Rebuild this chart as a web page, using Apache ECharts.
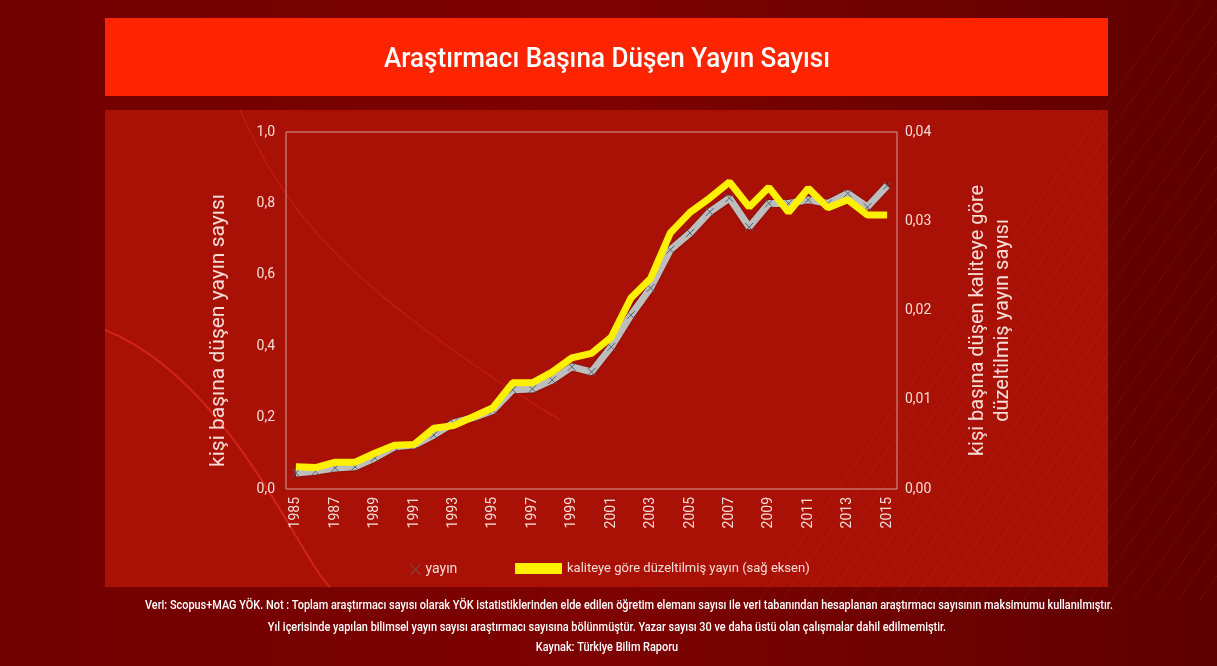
<!DOCTYPE html>
<html>
<head>
<meta charset="utf-8">
<script src="https://cdn.jsdelivr.net/npm/echarts@6/dist/echarts.min.js"></script>
<style>
  html, body { margin: 0; padding: 0; background: #6a0000; }
  #chart { width: 1217px; height: 666px; }
</style>
</head>
<body>
<div id="chart"></div>
<script>
// veriler
var years = ['1985','1986','1987','1988','1989','1990','1991','1992','1993','1994','1995',
  '1996','1997','1998','1999','2000','2001','2002','2003','2004','2005',
  '2006','2007','2008','2009','2010','2011','2012','2013','2014','2015'];
var yayin = [0.045, 0.05, 0.059, 0.062, 0.087, 0.118, 0.123, 0.151, 0.185, 0.20, 0.22,
  0.278, 0.28, 0.305, 0.342, 0.328, 0.398, 0.487, 0.563, 0.67, 0.717,
  0.776, 0.815, 0.734, 0.80, 0.80, 0.81, 0.80, 0.828, 0.79, 0.85];
var duzeltilmis = [0.0025, 0.0024, 0.0030, 0.0030, 0.0040, 0.0049, 0.0050, 0.0068, 0.0071, 0.0081, 0.0091,
  0.0119, 0.0119, 0.0131, 0.0147, 0.0152, 0.0170, 0.0214, 0.0236, 0.0287, 0.0310,
  0.0326, 0.0344, 0.0316, 0.0338, 0.0310, 0.0337, 0.0315, 0.0324, 0.0307, 0.0307];

var fontNarrow = 'Roboto, sans-serif';
var textColor = '#f6dcd6';
var crossPath = 'path://M0,0 L10,10 M10,0 L0,10';

// arka plandaki ince capraz cizgiler (sadece suslama)
var decor = [];
for (var i = 0; i < 26; i++) {
  var x0 = 760 + i * 22;
  decor.push({
    type: 'line', z: -5, silent: true,
    shape: { x1: x0, y1: 600, x2: x0 + 420, y2: 0 },
    style: { stroke: 'rgba(255,120,100,0.10)', lineWidth: 1 }
  });
}
decor.push({
  type: 'bezierCurve', z: -5, silent: true,
  shape: { x1: 105, y1: 330, cpx1: 230, cpy1: 380, cpx2: 300, cpy2: 560, x2: 330, y2: 587 },
  style: { stroke: 'rgba(255,60,40,0.45)', lineWidth: 2, fill: 'none' }
});
decor.push({
  type: 'bezierCurve', z: -5, silent: true,
  shape: { x1: 240, y1: 110, cpx1: 280, cpy1: 200, cpx2: 330, cpy2: 280, x2: 560, y2: 420 },
  style: { stroke: 'rgba(255,60,40,0.25)', lineWidth: 1.5, fill: 'none' }
});

var option = {
  backgroundColor: {
    type: 'linear', x: 0, y: 0, x2: 1, y2: 0,
    colorStops: [
      { offset: 0, color: '#720000' },
      { offset: 0.5, color: '#7e0202' },
      { offset: 1, color: '#5e0000' }
    ]
  },
  textStyle: { fontFamily: fontNarrow },
  graphic: [
    // ust baslik kutusu
    { type: 'rect', z: -10, shape: { x: 105, y: 18, width: 1003, height: 78 }, style: { fill: '#ff2400' } },
    // grafik paneli
    { type: 'rect', z: -10, shape: { x: 105, y: 110, width: 1003, height: 477 }, style: { fill: '#a91106' } },
    { type: 'text', x: 607, y: 60, scaleX: 0.93, z: 10,
      style: { text: 'Araştırmacı Başına Düşen Yayın Sayısı', fill: '#ffffff',
        font: '500 28px ' + fontNarrow, textAlign: 'center', textVerticalAlign: 'middle' } },
    { type: 'text', x: 629, y: 606, scaleX: 0.91,
      style: { text: 'Veri: Scopus+MAG YÖK. Not : Toplam araştırmacı sayısı olarak YÖK istatistiklerinden elde edilen öğretim elemanı sayısı ile veri tabanından hesaplanan araştırmacı sayısının maksimumu kullanılmıştır.',
        fill: '#ffffff', font: '500 12px ' + fontNarrow, textAlign: 'center', textVerticalAlign: 'middle' } },
    { type: 'text', x: 607, y: 628, scaleX: 0.91,
      style: { text: 'Yıl içerisinde yapılan bilimsel yayın sayısı araştırmacı sayısına bölünmüştür. Yazar sayısı 30 ve daha üstü olan çalışmalar dahil edilmemiştir.',
        fill: '#ffffff', font: '500 12px ' + fontNarrow, textAlign: 'center', textVerticalAlign: 'middle' } },
    { type: 'text', x: 607, y: 648, scaleX: 0.91,
      style: { text: 'Kaynak: Türkiye Bilim Raporu',
        fill: '#ffffff', font: '500 12px ' + fontNarrow, textAlign: 'center', textVerticalAlign: 'middle' } }
  ].concat(decor),
  legend: [
    {
      data: [{ name: 'yayın', icon: crossPath, itemStyle: { color: 'none', borderColor: '#8a3a34', borderWidth: 1.5 } }],
      left: 403, top: 557,
      itemWidth: 10, itemHeight: 10, itemGap: 10,
      textStyle: { color: textColor, fontSize: 14, fontFamily: fontNarrow }
    },
    {
      data: [{ name: 'kaliteye göre düzeltilmiş yayın (sağ eksen)', icon: 'rect' }],
      left: 510, top: 557,
      itemWidth: 47, itemHeight: 11, itemGap: 12,
      textStyle: { color: textColor, fontSize: 13, fontFamily: fontNarrow }
    }
  ],
  grid: {
    left: 286, right: 320, top: 132, bottom: 177,
    show: true, borderColor: '#d79b92', borderWidth: 1, backgroundColor: 'transparent'
  },
  xAxis: {
    type: 'category',
    data: years,
    boundaryGap: true,
    axisLine: { show: false },
    axisTick: { show: false },
    axisLabel: { interval: 1, rotate: 90, color: textColor, fontSize: 14, margin: 8 }
  },
  yAxis: [
    {
      type: 'value', min: 0, max: 1, interval: 0.2,
      name: 'kişi başına düşen yayın sayısı',
      nameLocation: 'middle', nameRotate: 90, nameGap: 57,
      nameTextStyle: { color: textColor, fontSize: 21, padding: [0, 40, 0, 0] },
      axisLine: { show: false }, axisTick: { show: false }, splitLine: { show: false },
      axisLabel: {
        color: textColor, fontSize: 14, margin: 11,
        formatter: function (v) { return v.toFixed(1).replace('.', ','); }
      }
    },
    {
      type: 'value', min: 0, max: 0.04, interval: 0.01,
      name: 'kişi başına düşen kaliteye göre\ndüzeltilmiş yayın sayısı',
      nameLocation: 'middle', nameRotate: 90, nameGap: 68,
      nameTextStyle: { color: textColor, fontSize: 20, lineHeight: 25, padding: [0, 20, 0, 0] },
      axisLine: { show: false }, axisTick: { show: false }, splitLine: { show: false },
      axisLabel: {
        color: textColor, fontSize: 14, margin: 8,
        formatter: function (v) { return v.toFixed(2).replace('.', ','); }
      }
    }
  ],
  series: [
    {
      name: 'yayın',
      type: 'line',
      yAxisIndex: 0,
      data: yayin,
      symbol: crossPath,
      symbolSize: 8,
      showAllSymbol: true,
      lineStyle: { color: '#bdbdbd', width: 7, shadowColor: 'rgba(60,0,0,0.6)', shadowBlur: 2 },
      itemStyle: { color: 'none', borderColor: '#4e6272', borderWidth: 1 },
      z: 2
    },
    {
      name: 'kaliteye göre düzeltilmiş yayın (sağ eksen)',
      type: 'line',
      yAxisIndex: 1,
      data: duzeltilmis,
      symbol: 'none',
      lineStyle: { color: '#fff000', width: 7 },
      itemStyle: { color: '#fff000' },
      z: 3
    }
  ]
};

var myChart = echarts.init(document.getElementById('chart'));
myChart.setOption(option);
</script>
</body>
</html>
